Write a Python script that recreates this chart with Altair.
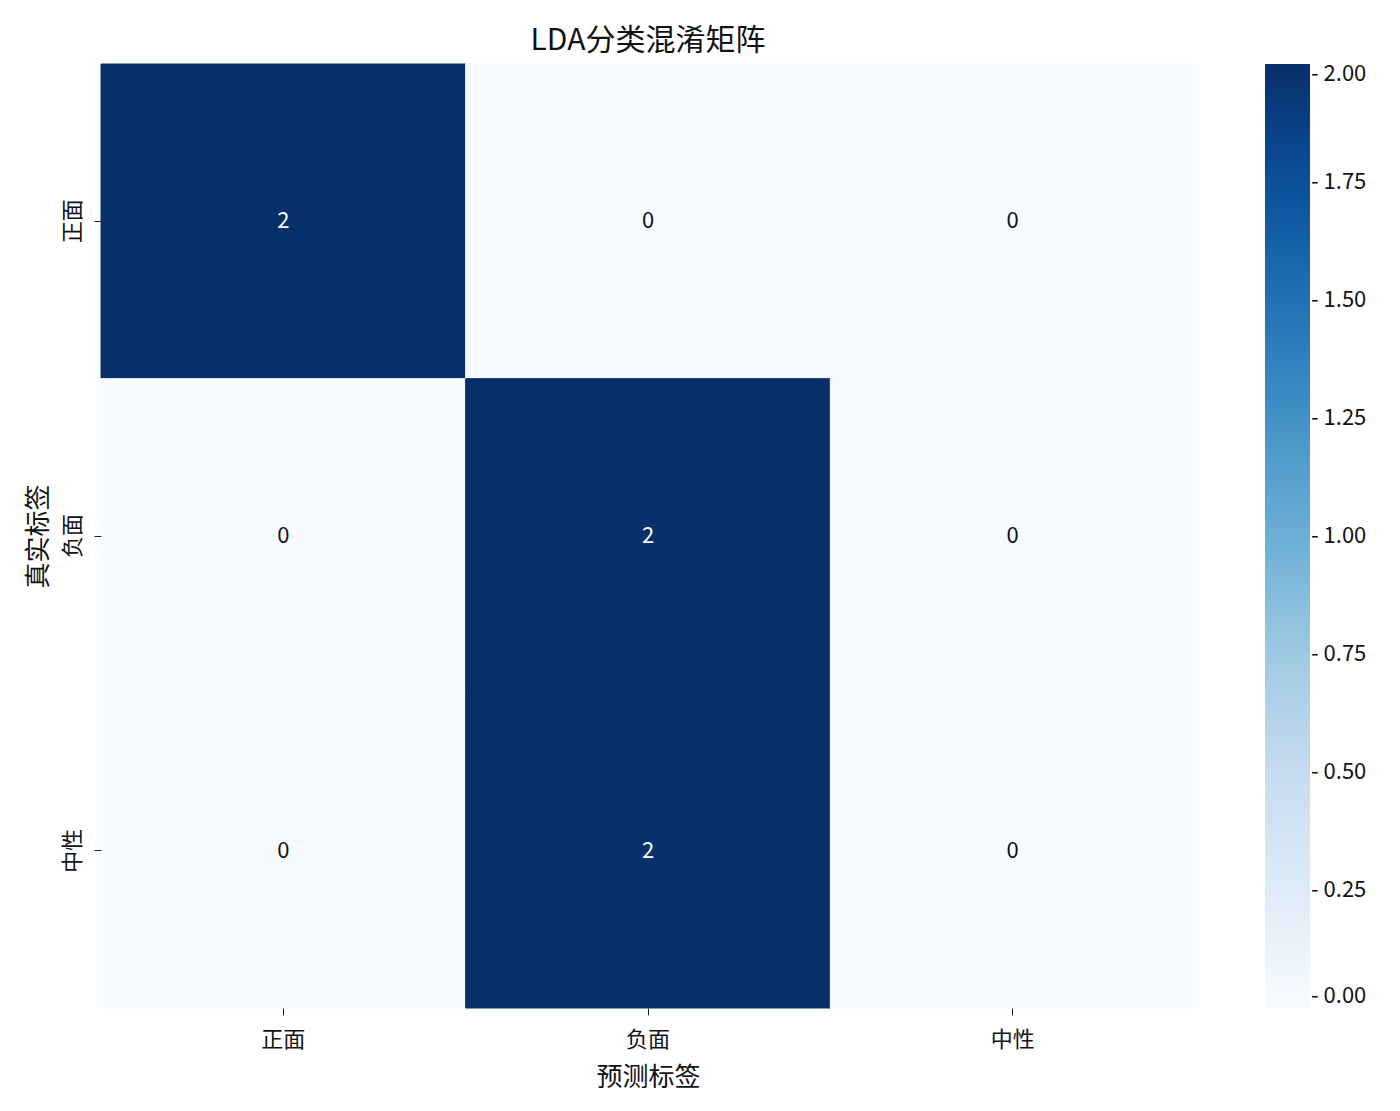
import altair as alt
import pandas as pd

labels = ["正面", "负面", "中性"]
matrix = [[2, 0, 0],
          [0, 2, 0],
          [0, 2, 0]]
blues = ["#f7fbff", "#deebf7", "#c6dbef", "#9ecae1", "#6baed6",
         "#4292c6", "#2171b5", "#08519c", "#08306b"]
stops = [0, 0.25, 0.5, 0.75, 1.0, 1.25, 1.5, 1.75, 2.0]

rows = []
for i, t in enumerate(labels):
    for j, p in enumerate(labels):
        rows.append({"true": t, "pred": p, "v": matrix[i][j]})
df = pd.DataFrame(rows)

FONT = "Noto Sans CJK SC"
cscale = alt.Scale(domain=stops, range=blues)

base = alt.Chart(df)
rect = base.mark_rect(strokeWidth=1).encode(
    x=alt.X("pred:N", sort=labels, title="预测标签",
            scale=alt.Scale(paddingInner=0, paddingOuter=0),
            axis=alt.Axis(labelAngle=0, labelFontSize=22, titleFontSize=26,
                          labelFont=FONT, titleFont=FONT, domain=False,
                          tickSize=7, tickColor="#222", labelColor="#111",
                          titleColor="#111", labelPadding=14, titlePadding=14,
                          titleFontWeight="normal")),
    y=alt.Y("true:N", sort=labels, title="真实标签",
            scale=alt.Scale(paddingInner=0, paddingOuter=0),
            axis=alt.Axis(labelAngle=-90, labelFontSize=22, titleFontSize=26,
                          labelFont=FONT, titleFont=FONT, domain=False,
                          tickSize=7, tickColor="#222", labelColor="#111",
                          titleColor="#111", labelPadding=10, titlePadding=10,
                          labelAlign="center", labelBaseline="bottom",
                          titleFontWeight="normal")),
    color=alt.Color("v:Q", scale=cscale,
                    legend=alt.Legend(title=None, orient="none",
                                      legendX=1164, legendY=0,
                                      gradientLength=944, gradientThickness=45,
                                      direction="vertical",
                                      values=stops,
                                      labelExpr="'- ' + format(datum.value, '.2f')",
                                      labelFontSize=22, labelFont=FONT,
                                      labelColor="#111", labelOffset=1,
                                      labelBaseline="middle",
                                      gradientStrokeWidth=0)),
    stroke=alt.condition("datum.v > 1", alt.value("#08306b"), alt.value("#f7fbff")),
)
text = base.mark_text(fontSize=22, font=FONT).encode(
    x=alt.X("pred:N", sort=labels),
    y=alt.Y("true:N", sort=labels),
    text=alt.Text("v:Q"),
    color=alt.condition("datum.v > 1", alt.value("white"), alt.value("#111")),
)

chart = (rect + text).properties(
    width=1094, height=944,
    title=alt.Title("LDA分类混淆矩阵", fontSize=30, font=FONT,
                    fontWeight="normal", color="#111", offset=8),
    autosize=alt.AutoSizeParams(type="none"),
    padding={"left": 93, "top": 56, "right": 180, "bottom": 95},
).configure_view(stroke=None)

chart.save("out.html", embed_options={"renderer": "svg", "actions": False})
